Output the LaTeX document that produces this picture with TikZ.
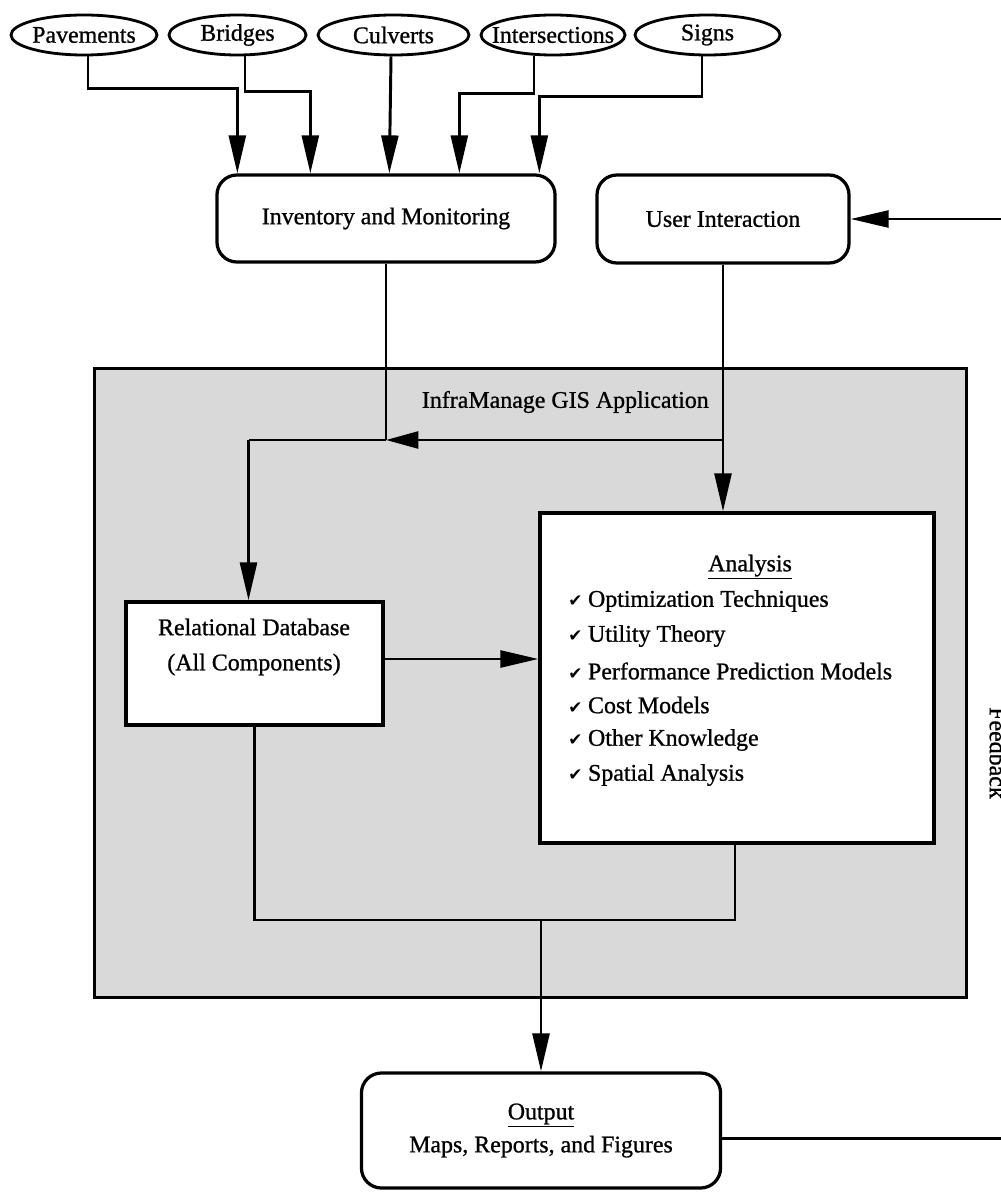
\documentclass[tikz,border=0pt]{standalone}
\usepackage{fontspec}
\setmainfont{Liberation Serif}[FakeBold=0.9]
\newfontfamily\dejavu{DejaVu Sans}
\usetikzlibrary{arrows.meta,calc,shapes.geometric}
\newcommand\chk{{\dejavu\fontsize{12}{12}\selectfont ✔}\hspace{4pt}}
\begin{document}
\begin{tikzpicture}[x=0.025cm,y=-0.025cm,
  every node/.style={font=\fontsize{17}{21}\selectfont},
  conn/.style={line width=2.1pt},
  arr/.style={conn,-{Triangle[length=27pt,width=12pt]}},
  ell/.style={draw,ellipse,line width=2pt,fill=white,minimum width=#1,minimum height=1cm,inner sep=0},
  rbox/.style={draw,rounded corners=0.5cm,line width=2.3pt,fill=white,inner sep=0},
  sbox/.style={draw,line width=2.3pt,fill=white,inner sep=0},
  item/.style={anchor=west,inner sep=0}]
\useasboundingbox (0,0) rectangle (1000,1194);

% outer GIS container
\node[draw,line width=2.1pt,fill=black!15,minimum width=21.775cm,minimum height=15.7cm,inner sep=0] (gis) at (530.5,683) {};
\node[anchor=west] (gist) at (417,402) {InfraManage GIS Application};

% data sources
\node[ell=3.65cm,label={center:Pavements}] (pav) at (84,35) {};
\node[ell=3.425cm,label={center:Bridges}] (bri) at (237.5,35) {};
\node[ell=3.775cm,label={center:Culverts}] (cul) at (393.5,35) {};
\node[ell=3.6cm,label={center:Intersections}] (int) at (553,35) {};
\node[ell=3.625cm,label={center:Signs}] (sig) at (707.5,35) {};

% top boxes
\node[rbox,minimum width=8.45cm,minimum height=2.175cm] (inv) at (386,218.5) {Inventory and Monitoring};
\node[rbox,minimum width=6.3cm,minimum height=2.2cm] (ui) at (723,219) {User Interaction};

% inner boxes
\node[sbox,minimum width=6.425cm,minimum height=3.075cm] (rdb) at (254.5,663.5) {};
\node[align=center,font=\fontsize{17}{25}\selectfont] (rdbt) at (254,647) {Relational Database\\(All Components)};

\node[sbox,minimum width=9.85cm,minimum height=8.25cm] (ana) at (737,678) {};
\node (anat) at (750,567) {\underline{Analysis}};
\node[item] (a1) at (568,601) {\chk Optimization Techniques};
\node[item] (a2) at (568,636) {\chk Utility Theory};
\node[item] (a3) at (568,671) {\chk Performance Prediction Models};
\node[item] (a4) at (568,705) {\chk Cost Models};
\node[item] (a5) at (568,740) {\chk Other Knowledge};
\node[item] (a6) at (568,775) {\chk Spatial Analysis};

% output
\node[rbox,minimum width=8.975cm,minimum height=2.875cm,align=center,font=\fontsize{17}{23.5}\selectfont] (out) at (541,1130.5) {\underline{Output}\\Maps, Reports, and Figures};

\node[rotate=-90] (fb) at (998,753) {Feedback};

% helper coordinates
\coordinate (yA) at (0,440);
\coordinate (yB) at (0,659);
\coordinate (yL) at (0,920);

% source connectors
\draw[arr] ($(pav.south)+(4,0)$) |- ($(inv.north west)+(22,-85)$) -- ($(inv.north west)+(22,0)$);
\draw[arr] ($(bri.south)+(7.5,0)$) |- ($(inv.north west)+(95,-82)$) -- ($(inv.north west)+(95,0)$);
\draw[arr] ($(cul.south)+(-2.5,0)$) -- ($(inv.north west)+(174,0)$);
\draw[arr] ($(int.south)+(-19,0)$) |- ($(inv.north west)+(244,-80)$) -- ($(inv.north west)+(244,0)$);
\draw[arr] ($(sig.south)+(-5.5,0)$) |- ($(inv.north west)+(324,-77)$) -- ($(inv.north west)+(324,0)$);

% user interaction / inventory into the GIS application
\coordinate (j2) at (ui.south |- yA);
\coordinate (j1) at (inv.south |- yA);
\coordinate (j3) at ($(rdb.north |- yA)+(-6,0)$);
\draw[arr] (ui.south) -- (ui.south |- ana.north);
\draw[conn] (inv.south) -- (j1);
\draw[conn,-{Triangle[length=23pt,width=12pt]}] (j2) -- (j1);
\draw[conn] (j1) -- (j3);
\draw[arr] (j3) -- (j3 |- rdb.north);

% database to analysis
\draw[arr] (rdb.east |- yB) -- (ana.west |- yB);

% loop to output
\coordinate (lb) at (out.north |- yL);
\draw[conn] (rdb.south) |- (lb) -| ($(ana.south)+(-2,0)$);
\draw[arr] (lb) -- (out.north);

% feedback
\coordinate (fbr) at (1015,0);
\draw[arr] ($(out.east)+(0,8)$) -- ($(fbr |- out.east)+(0,8)$) |- (ui.east);
\end{tikzpicture}
\end{document}
